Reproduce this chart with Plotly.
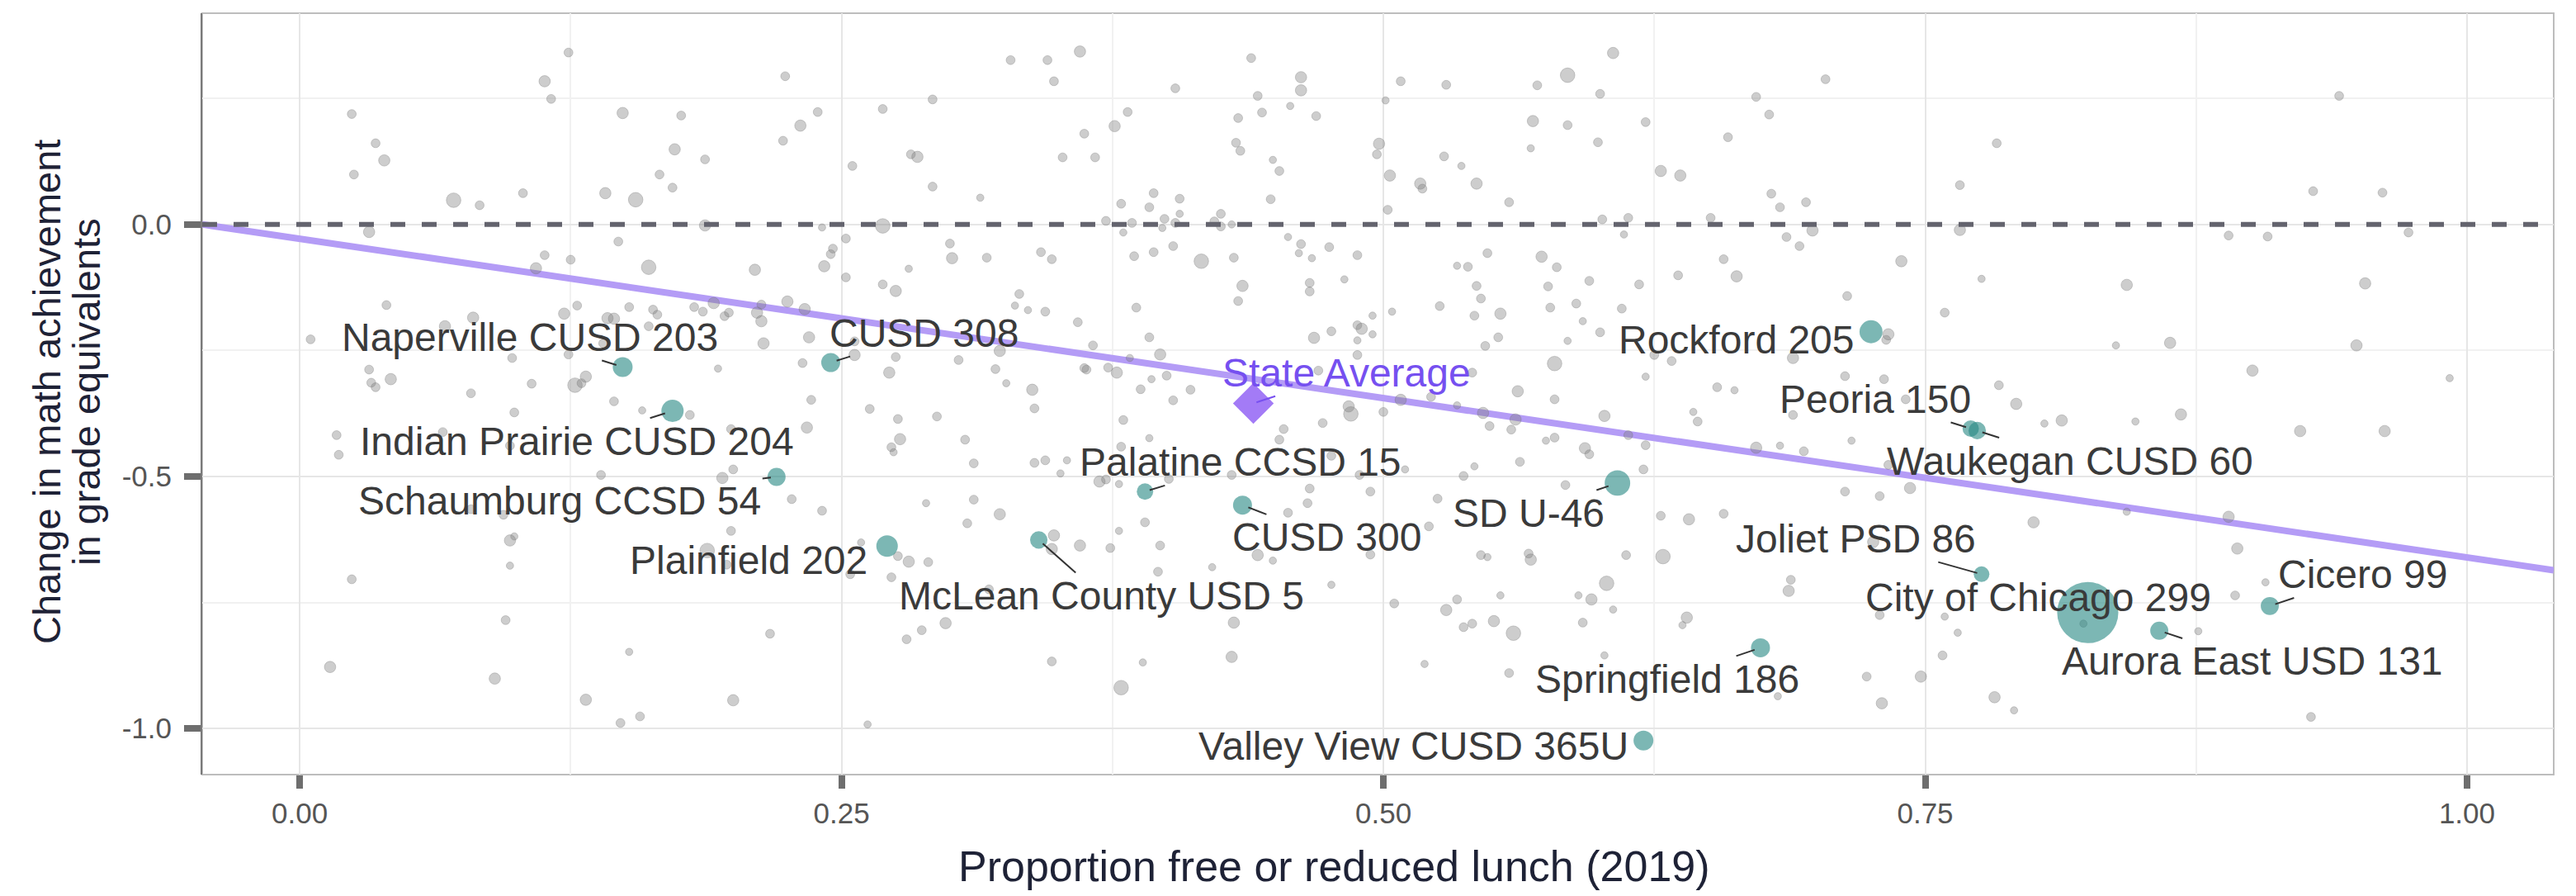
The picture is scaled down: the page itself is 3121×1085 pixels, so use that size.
import math
import plotly.graph_objects as go

# ---------------- data ----------------
# background districts: proportion FRL (x), change in math GE (y), enrollment (thousands)
bg_x = [
0.124,0.113,0.116,0.024,0.149,0.176,0.224,0.223,0.035,0.039,0.173,0.187,0.025,0.166,0.172,0.071,0.083,0.103,0.141,0.155,0.187,0.032,0.147,0.113,0.125,0.109,0.161,0.210,
0.239,0.231,0.269,0.292,0.328,0.345,0.360,0.348,0.362,0.352,0.367,0.255,0.282,0.285,0.292,0.314,0.376,0.382,0.404,0.439,0.462,0.462,0.442,0.457,0.444,0.433,0.469,0.432,0.434,0.449,0.452,0.448,0.379,0.392,0.394,0.406,0.406,0.399,0.404,0.384,0.372,0.398,0.380,0.425,0.422,0.425,0.430,0.269,0.241,0.252,0.246,0.245,0.242,0.281,0.300,0.301,0.317,0.342,0.347,0.385,0.394,0.403,0.416,0.431,0.456,0.462,0.461,0.467,0.475,0.488,
0.498,0.497,0.501,0.508,0.529,0.571,0.585,0.606,0.600,0.569,0.585,0.621,0.599,0.568,0.528,0.536,0.503,0.517,0.518,0.543,0.558,0.502,0.601,0.613,0.611,0.628,0.637,0.659,0.672,0.678,0.704,0.679,0.683,0.695,0.651,0.698,0.686,0.692,0.657,0.548,0.573,0.580,0.534,0.539,0.739,
0.766,0.766,0.783,0.941,0.929,0.961,0.890,0.908,0.973,
0.040,0.005,0.080,0.067,0.122,0.128,0.142,0.145,0.152,0.163,0.165,0.161,0.140,0.182,0.186,0.191,0.196,0.198,0.211,0.213,0.213,0.225,0.214,0.098,0.124,0.193,0.032,0.042,0.033,0.035,0.107,0.127,0.130,0.132,0.079,0.145,0.158,0.180,0.099,0.017,0.018,0.066,0.097,0.139,0.195,0.200,0.199,0.227,0.079,0.094,
0.252,0.269,0.275,0.233,0.235,0.256,0.256,0.275,0.272,0.232,0.236,0.263,0.276,0.294,0.234,0.277,0.273,0.274,0.307,0.311,0.339,0.344,0.354,0.351,0.332,0.330,0.336,0.344,0.359,0.323,0.321,0.304,0.326,0.338,0.339,0.366,0.362,0.363,0.373,0.377,0.383,0.386,0.392,0.397,0.400,0.393,0.388,0.411,0.403,0.380,0.392,0.379,0.435,0.433,0.466,0.466,0.482,0.495,0.476,0.468,0.488,0.490,0.488,0.495,0.488,0.470,0.484,0.485,0.472,0.454,0.452,0.476,0.489,0.494,0.466,0.465,0.456,0.430,0.401,0.369,0.372,0.378,0.241,0.289,0.311,0.323,0.308,0.390,
0.543,0.545,0.526,0.542,0.554,0.504,0.576,0.595,0.618,0.636,0.663,0.589,0.577,0.610,0.592,0.600,0.585,0.553,0.547,0.579,0.541,0.562,0.579,0.522,0.500,0.508,0.534,0.546,0.561,0.549,0.559,0.602,0.579,0.575,0.593,0.595,0.613,0.621,0.620,0.563,0.542,0.510,0.537,0.525,0.584,0.621,0.625,0.633,0.654,0.662,0.643,0.645,0.672,0.683,0.694,0.714,0.689,0.713,0.731,0.689,0.716,0.741,0.733,0.743,0.713,0.729,0.732,0.733,0.759,0.628,0.641,0.657,
0.776,0.843,0.838,0.863,0.953,0.949,0.901,0.992,0.784,0.792,0.805,0.813,0.847,0.868,0.923,0.962,0.843,0.890,0.800,
0.099,0.097,0.097,0.024,0.199,0.188,0.197,0.095,0.217,0.152,0.014,0.090,0.132,0.200,0.148,0.157,
0.259,0.276,0.281,0.290,0.254,0.273,0.348,0.347,0.360,0.374,0.378,0.397,0.396,0.421,0.442,0.449,0.476,0.494,0.318,0.298,0.287,0.280,0.431,0.347,0.389,0.430,0.379,0.262,
0.521,0.545,0.548,0.567,0.568,0.612,0.629,0.603,0.505,0.534,0.529,0.554,0.590,0.596,0.606,0.551,0.541,0.537,0.560,0.592,0.640,0.638,0.688,0.687,0.726,0.729,0.759,0.765,0.758,0.723,0.748,0.730,0.682,0.602,0.558,0.519,
0.894,0.907,0.893,0.876,0.823,0.782,0.791,0.928,
]
bg_y = [
0.341,0.284,0.249,0.219,0.221,0.216,0.294,0.166,0.161,0.127,0.149,0.129,0.099,0.099,0.073,0.048,0.038,0.062,0.062,0.049,-0.002,-0.015,-0.034,-0.061,-0.070,-0.087,-0.085,-0.090,
0.223,0.196,0.229,0.248,0.326,0.326,0.343,0.284,0.180,0.133,0.133,0.116,0.139,0.134,0.075,0.053,0.195,0.223,0.270,0.330,0.292,0.266,0.255,0.235,0.222,0.211,0.215,0.162,0.146,0.128,0.106,0.050,0.041,0.034,0.062,0.051,0.021,0.011,0.003,0.003,0.007,-0.007,-0.016,0.021,0.006,-0.004,0.000,-0.003,-0.006,-0.028,-0.048,-0.059,-0.083,-0.088,-0.038,-0.067,-0.066,-0.055,-0.069,-0.063,-0.055,-0.043,-0.073,-0.066,-0.025,-0.039,-0.057,-0.067,-0.045,-0.061,
0.160,0.139,0.246,0.284,0.277,0.276,0.296,0.340,0.259,0.205,0.197,0.203,0.163,0.151,0.135,0.116,0.097,0.081,0.071,0.081,0.044,0.029,0.010,0.013,-0.020,0.106,0.097,0.173,0.253,0.218,0.288,0.061,0.034,0.044,0.013,-0.012,-0.025,-0.043,-0.069,-0.057,-0.064,-0.085,-0.082,-0.084,-0.073,
0.078,-0.011,0.161,0.255,0.066,0.063,-0.022,-0.024,-0.016,
-0.160,-0.228,-0.185,-0.202,-0.177,-0.161,-0.186,-0.187,-0.164,-0.169,-0.179,-0.202,-0.236,-0.164,-0.173,-0.156,-0.182,-0.175,-0.175,-0.159,-0.192,-0.153,-0.236,-0.265,-0.258,-0.286,-0.288,-0.307,-0.314,-0.323,-0.316,-0.319,-0.315,-0.302,-0.335,-0.351,-0.369,-0.378,-0.373,-0.418,-0.457,-0.412,-0.439,-0.497,-0.503,-0.486,-0.406,-0.545,-0.565,-0.576,
-0.105,-0.119,-0.132,-0.168,-0.224,-0.232,-0.259,-0.263,-0.294,-0.275,-0.348,-0.366,-0.386,-0.381,-0.403,-0.426,-0.442,-0.452,-0.427,-0.474,-0.473,-0.468,-0.468,-0.494,-0.138,-0.161,-0.170,-0.173,-0.194,-0.251,-0.287,-0.269,-0.315,-0.328,-0.365,-0.240,-0.285,-0.288,-0.284,-0.294,-0.265,-0.165,-0.224,-0.258,-0.300,-0.307,-0.327,-0.328,-0.349,-0.388,-0.424,-0.441,-0.122,-0.152,-0.116,-0.133,-0.109,-0.181,-0.212,-0.225,-0.200,-0.207,-0.230,-0.218,-0.259,-0.290,-0.361,-0.376,-0.394,-0.406,-0.427,-0.459,-0.497,-0.530,-0.524,-0.553,-0.572,-0.497,-0.505,-0.510,-0.506,-0.515,-0.568,-0.553,-0.546,-0.575,-0.593,-0.591,
-0.122,-0.147,-0.162,-0.181,-0.177,-0.173,-0.123,-0.112,-0.119,-0.101,-0.103,-0.157,-0.165,-0.167,-0.192,-0.214,-0.231,-0.224,-0.241,-0.276,-0.294,-0.331,-0.347,-0.342,-0.372,-0.348,-0.359,-0.374,-0.387,-0.400,-0.407,-0.380,-0.423,-0.429,-0.444,-0.456,-0.418,-0.438,-0.486,-0.471,-0.480,-0.486,-0.499,-0.544,-0.517,-0.302,-0.259,-0.271,-0.323,-0.329,-0.372,-0.391,-0.443,-0.439,-0.450,-0.142,-0.265,-0.301,-0.307,-0.378,-0.429,-0.347,-0.477,-0.523,-0.530,-0.539,-0.229,-0.218,-0.175,-0.578,-0.585,-0.574,
-0.108,-0.120,-0.240,-0.235,-0.117,-0.240,-0.290,-0.305,-0.319,-0.356,-0.395,-0.389,-0.391,-0.377,-0.410,-0.410,-0.570,-0.580,-0.591,
-0.619,-0.627,-0.677,-0.704,-0.608,-0.647,-0.675,-0.785,-0.812,-0.848,-0.878,-0.901,-0.943,-0.944,-0.989,-0.976,
-0.631,-0.658,-0.669,-0.670,-0.694,-0.700,-0.617,-0.644,-0.637,-0.642,-0.608,-0.637,-0.689,-0.680,-0.656,-0.667,-0.715,-0.655,-0.724,-0.791,-0.805,-0.823,-0.790,-0.867,-0.869,-0.858,-0.919,-0.992,
-0.599,-0.656,-0.660,-0.653,-0.665,-0.656,-0.659,-0.712,-0.752,-0.744,-0.765,-0.736,-0.736,-0.744,-0.764,-0.787,-0.792,-0.799,-0.811,-0.790,-0.780,-0.795,-0.705,-0.727,-0.630,-0.775,-0.778,-0.810,-0.855,-0.897,-0.897,-0.950,-0.936,-0.855,-0.890,-0.872,
-0.643,-0.710,-0.736,-0.807,-0.792,-0.938,-0.964,-0.977,
]
bg_enroll = [
5,9,5,5,9,5,5,5,5,9,9,5,5,5,5,16,5,5,9,16,9,9,5,5,5,9,16,9,
5,9,5,5,5,5,9,5,5,5,5,5,5,9,5,3,9,5,5,5,9,9,5,3,5,5,5,5,5,3,5,5,5,5,5,5,3,5,5,5,5,3,3,5,5,5,3,16,3,5,5,5,9,3,5,9,5,5,5,5,5,5,16,5,3,5,3,3,5,5,
9,5,3,5,5,5,16,9,5,9,5,5,5,3,5,3,9,9,5,9,5,5,5,5,3,9,9,5,5,5,5,5,5,5,5,9,5,5,5,5,9,5,3,5,9,
5,9,5,5,5,5,5,5,5,
5,5,9,9,9,5,9,9,5,5,5,5,5,5,5,9,5,5,9,5,9,9,9,5,5,3,5,9,5,5,5,16,5,9,5,5,3,5,5,5,5,5,5,5,9,5,5,5,5,5,
5,5,9,9,9,5,9,5,9,5,5,5,5,5,9,9,5,3,5,5,5,5,3,3,5,3,3,5,5,9,5,5,3,9,5,5,5,5,5,9,3,5,5,9,5,3,5,5,5,5,3,5,9,5,5,5,3,3,5,9,5,9,3,3,5,5,9,16,5,5,5,5,5,5,5,5,5,5,5,9,5,3,5,3,5,9,5,5,
5,5,5,5,9,3,5,5,5,5,9,5,5,5,3,5,3,5,5,16,5,9,5,5,5,9,3,9,9,5,5,9,5,3,9,5,5,5,5,5,3,3,5,5,5,3,5,5,5,3,3,5,9,3,5,5,9,5,5,5,3,5,5,9,5,5,5,9,5,5,9,5,
3,9,3,9,9,9,9,3,5,9,3,9,3,9,9,9,3,9,9,
3,9,3,5,5,16,5,5,5,3,9,9,9,9,5,5,
3,5,9,5,5,5,9,9,9,5,3,5,5,3,9,3,3,5,5,9,5,5,9,5,3,9,16,3,
5,5,3,5,9,5,16,16,5,5,9,3,3,9,3,9,5,5,16,5,9,3,5,9,9,5,3,3,5,5,9,9,3,3,5,3,
9,3,5,3,3,9,3,5,
]

# highlighted districts
dist_name = ["Naperville CUSD 203", "Indian Prairie CUSD 204", "Schaumburg CCSD 54", "CUSD 308",
             "Palatine CCSD 15", "CUSD 300", "Plainfield 202", "McLean County USD 5", "Rockford 205",
             "SD U-46", "Peoria 150", "Waukegan CUSD 60", "Springfield 186", "Valley View CUSD 365U",
             "Joliet PSD 86", "City of Chicago 299", "Aurora East USD 131", "Cicero 99"]
dist_frl = [0.149, 0.172, 0.220, 0.245, 0.390, 0.435, 0.271, 0.341, 0.725, 0.608, 0.771, 0.774,
            0.674, 0.620, 0.776, 0.825, 0.858, 0.909]
dist_change = [-0.283, -0.370, -0.501, -0.274, -0.530, -0.557, -0.638, -0.626, -0.213, -0.513, -0.405,
               -0.409, -0.840, -1.024, -0.694, -0.770, -0.806, -0.757]
dist_enroll = [32, 41, 26, 29, 21, 29, 38, 24, 44, 55, 21, 24, 29, 32, 19, 342, 26, 26]

state_frl = 0.440
state_change = -0.355

fit_x = [-0.045, 1.04]
fit_y = [0.0, -0.686]

x_ticks = [0.0, 0.25, 0.5, 0.75, 1.0]
x_ticktext = ["0.00", "0.25", "0.50", "0.75", "1.00"]
y_ticks = [-1.0, -0.5, 0.0]
y_ticktext = ["-1.0", "-0.5", "0.0"]

# label placement (layout only): name -> (label x, label y, draw segment)
label_pos = {
    "Naperville CUSD 203": (0.106, -0.224, True),
    "Indian Prairie CUSD 204": (0.128, -0.430, True),
    "Schaumburg CCSD 54": (0.120, -0.549, True),
    "CUSD 308": (0.288, -0.216, True),
    "Palatine CCSD 15": (0.434, -0.472, True),
    "CUSD 300": (0.474, -0.621, True),
    "Plainfield 202": (0.207, -0.666, False),
    "McLean County USD 5": (0.370, -0.737, True),
    "Rockford 205": (0.663, -0.229, False),
    "SD U-46": (0.567, -0.573, True),
    "Peoria 150": (0.727, -0.347, True),
    "Waukegan CUSD 60": (0.817, -0.469, True),
    "Springfield 186": (0.631, -0.902, True),
    "Valley View CUSD 365U": (0.514, -1.035, False),
    "Joliet PSD 86": (0.718, -0.624, True),
    "City of Chicago 299": (0.802, -0.740, False),
    "Aurora East USD 131": (0.901, -0.867, True),
    "Cicero 99": (0.952, -0.695, True),
}
state_label_pos = (0.483, -0.295)

# ---------------- figure ----------------
FONT = "Liberation Sans, Arial, sans-serif"
PAGE_OFF = 8                      # default body margin of the html page
W, H = 3121 - PAGE_OFF, 1085 - PAGE_OFF
ML, MR, MT, MB = 245 - PAGE_OFF, 27, 16 - PAGE_OFF, 147
PX0, PX1, PY0, PY1 = 245, 3094, 16, 938   # plot area in page pixels


def px_to_paper_x(px):
    return (px - PX0) / (PX1 - PX0)


def px_to_paper_y(py):
    return (PY1 - py) / (PY1 - PY0)


def diam(e):
    return 2.0 + 3.9 * math.sqrt(e)


fig = go.Figure()

fig.add_trace(go.Scatter(x=fit_x, y=fit_y, mode="lines",
                         line=dict(color="rgb(180,156,246)", width=8),
                         hoverinfo="skip", showlegend=False))

fig.add_trace(go.Scatter(x=bg_x, y=bg_y, mode="markers",
                         marker=dict(size=[diam(e) for e in bg_enroll],
                                     color="rgba(128,128,128,0.55)",
                                     line=dict(color="rgba(110,110,110,0.5)", width=1)),
                         hoverinfo="skip", showlegend=False))

fig.add_trace(go.Scatter(x=dist_frl, y=dist_change, mode="markers",
                         marker=dict(size=[diam(e) for e in dist_enroll],
                                     color="rgba(38,136,130,0.86)",
                                     line=dict(width=0)),
                         text=dist_name, hoverinfo="text", showlegend=False))

fig.add_trace(go.Scatter(x=[state_frl], y=[state_change], mode="markers",
                         marker=dict(symbol="diamond", size=38, color="rgba(155,112,245,0.92)",
                                     line=dict(width=0)),
                         hoverinfo="skip", showlegend=False))

LABEL_FS = 48
annotations = []
for name, fx, fy, e in zip(dist_name, dist_frl, dist_change, dist_enroll):
    lx, ly, seg = label_pos[name]
    if seg:
        annotations.append(dict(x=fx, y=fy, xref="x", yref="y", ax=lx, ay=ly, axref="x", ayref="y",
                                text=name, showarrow=True, arrowhead=0, arrowwidth=2,
                                arrowcolor="#333333", standoff=max(diam(e) / 2 - 4, 1),
                                font=dict(family=FONT, size=LABEL_FS, color="#3a3a3a")))
    else:
        annotations.append(dict(x=lx, y=ly, xref="x", yref="y", text=name, showarrow=False,
                                font=dict(family=FONT, size=LABEL_FS, color="#3a3a3a")))

annotations.append(dict(x=state_frl, y=state_change, xref="x", yref="y",
                        ax=state_label_pos[0], ay=state_label_pos[1], axref="x", ayref="y",
                        text="State Average", showarrow=True, arrowhead=0, arrowwidth=2,
                        arrowcolor="rgb(120,80,240)", standoff=4,
                        font=dict(family=FONT, size=LABEL_FS, color="rgb(118,80,240)")))

TITLE_COLOR = "#1e2236"
annotations.append(dict(text="Proportion free or reduced lunch (2019)", xref="paper", yref="paper",
                        x=px_to_paper_x(1616), y=px_to_paper_y(1049), xanchor="center",
                        yanchor="middle", showarrow=False,
                        font=dict(family=FONT, size=52, color=TITLE_COLOR)))
annotations.append(dict(text="Change in math achievement", xref="paper", yref="paper",
                        x=px_to_paper_x(56), y=px_to_paper_y(475), xanchor="center",
                        yanchor="middle", textangle=-90, showarrow=False,
                        font=dict(family=FONT, size=47, color=TITLE_COLOR)))
annotations.append(dict(text="in grade equivalents", xref="paper", yref="paper",
                        x=px_to_paper_x(104), y=px_to_paper_y(475), xanchor="center",
                        yanchor="middle", textangle=-90, showarrow=False,
                        font=dict(family=FONT, size=47, color=TITLE_COLOR)))

shapes = [
    dict(type="line", xref="paper", yref="y", x0=0, x1=1, y0=0, y1=0,
         line=dict(color="rgb(100,100,110)", width=6, dash="18px,20px"), layer="above"),
    dict(type="rect", xref="paper", yref="paper", x0=0, x1=1, y0=0, y1=1,
         line=dict(color="#BDBDBD", width=2), layer="below"),
]

fig.update_layout(
    width=W, height=H, autosize=False,
    margin=dict(l=ML, r=MR, t=MT, b=MB, pad=0),
    paper_bgcolor="white", plot_bgcolor="white",
    showlegend=False,
    annotations=annotations, shapes=shapes,
    font=dict(family=FONT),
    xaxis=dict(range=[-0.045, 1.04], tickmode="array", tickvals=x_ticks, ticktext=x_ticktext,
               ticks="outside", ticklen=16, tickwidth=8, tickcolor="#6e6e6e",
               tickfont=dict(family=FONT, size=35, color="#555555"), ticklabelstandoff=0,
               showgrid=True, gridcolor="#E6E6E6", gridwidth=2,
               minor=dict(tickvals=[0.125, 0.375, 0.625, 0.875], showgrid=True,
                          gridcolor="#F1F1F1", gridwidth=1.5),
               zeroline=False, showline=False, fixedrange=True),
    yaxis=dict(range=[-1.0915, 0.419], tickmode="array", tickvals=y_ticks, ticktext=y_ticktext,
               ticks="outside", ticklen=20, tickwidth=8, tickcolor="#6e6e6e",
               tickfont=dict(family=FONT, size=35, color="#555555"), ticklabelstandoff=8,
               showgrid=True, gridcolor="#E6E6E6", gridwidth=2,
               minor=dict(tickvals=[-0.75, -0.25, 0.25], showgrid=True,
                          gridcolor="#F1F1F1", gridwidth=1.5),
               zeroline=False, showline=True, linecolor="#7a7a7a", linewidth=2, mirror=False,
               fixedrange=True),
)

fig.write_html("out.html")
